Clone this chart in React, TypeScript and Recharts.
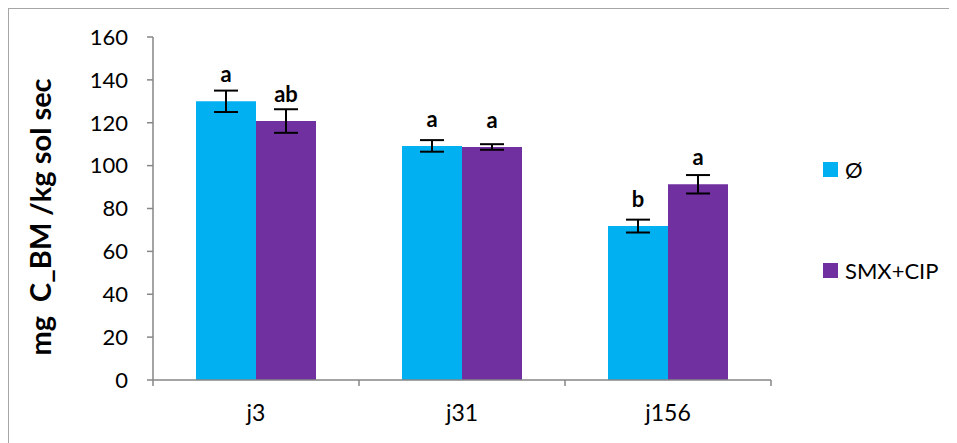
import React from 'react';
import {
  Bar,
  BarChart,
  ErrorBar,
  LabelList,
  Legend,
  XAxis,
  YAxis,
} from 'recharts';

// Biomass carbon per treatment and sampling day
const CATEGORIES = ['j3', 'j31', 'j156'];
const CONTROL = [130, 109.2, 71.8];
const CONTROL_ERR = [5, 2.7, 3];
const CONTROL_SIG = ['a', 'a', 'b'];
const TREATED = [120.8, 108.7, 91.3];
const TREATED_ERR = [5.5, 1.3, 4.3];
const TREATED_SIG = ['ab', 'a', 'a'];
const Y_TICKS = [0, 20, 40, 60, 80, 100, 120, 140, 160];

const SERIES = [
  { key: 'control', name: 'Ø', color: '#00B0F0' },
  { key: 'treated', name: 'SMX+CIP', color: '#7030A0' },
];

const data = CATEGORIES.map((day, i) => ({
  day,
  control: CONTROL[i],
  controlErr: CONTROL_ERR[i],
  controlSig: CONTROL_SIG[i],
  treated: TREATED[i],
  treatedErr: TREATED_ERR[i],
  treatedSig: TREATED_SIG[i],
}));

const W = 949;
const H = 435;
const MARGIN = { top: 29, right: 186, left: 0, bottom: 0 };
const Y_AXIS_W = 145;
const X_AXIS_H = 63;
const PLOT_W = W - MARGIN.left - MARGIN.right - Y_AXIS_W;
const AXIS_COLOR = '#868686';
const FONT = 'Lato, "Open Sans", sans-serif';

// category label plus tick marks at the category boundaries
function DayTick(props: any) {
  const { x, y, payload, index } = props;
  const band = PLOT_W / CATEGORIES.length;
  const left = x - band / 2;
  return (
    <g>
      <line x1={left} y1={y - 8} x2={left} y2={y - 2} stroke={AXIS_COLOR} strokeWidth={1.5} />
      {index === CATEGORIES.length - 1 && (
        <line x1={x + band / 2} y1={y - 8} x2={x + band / 2} y2={y - 2} stroke={AXIS_COLOR} strokeWidth={1.5} />
      )}
      <text x={x} y={y + 33} textAnchor="middle" fontSize={23} fontFamily={FONT} fill="#000">
        {payload.value}
      </text>
    </g>
  );
}

function LegendBox() {
  return (
    <div style={{ fontFamily: FONT, fontSize: 22, color: '#000' }}>
      {SERIES.map((s, i) => (
        <div
          key={s.key}
          style={{ display: 'flex', alignItems: 'center', height: 24, marginTop: i === 0 ? 0 : 77 }}
        >
          <span style={{ width: 15, height: 15, background: s.color, display: 'inline-block', marginRight: 7 }} />
          <span>{s.name}</span>
        </div>
      ))}
    </div>
  );
}

const TITLE_X = 31;
const TITLE_Y = 209;

export default function App() {
  return (
    <div style={{ position: 'relative', width: W, height: H, background: '#fff' }}>
      <div style={{ position: 'absolute', left: -1, top: -1, width: W + 1, height: 2, background: '#a6a6a6' }} />
      <div style={{ position: 'absolute', left: -1, top: -1, width: 2, height: H + 1, background: '#a6a6a6' }} />
      <BarChart width={W} height={H} data={data} margin={MARGIN} barGap={0} barSize={60}>
        <XAxis
          dataKey="day"
          height={X_AXIS_H}
          stroke={AXIS_COLOR}
          strokeWidth={1.5}
          tickLine={false}
          tick={<DayTick />}
          interval={0}
        />
        <YAxis
          domain={[0, 160]}
          ticks={Y_TICKS}
          width={Y_AXIS_W}
          stroke={AXIS_COLOR}
          strokeWidth={1.5}
          tickSize={6}
          tickMargin={19}
          tick={{ fill: '#000', fontSize: 22, fontFamily: FONT }}
          interval={0}
          label={{
            content: () => (
              <text
                x={TITLE_X}
                y={TITLE_Y}
                transform={`rotate(-90 ${TITLE_X} ${TITLE_Y})`}
                textAnchor="middle"
                dominantBaseline="central"
                fontSize={29}
                fontWeight="bold"
                fontFamily={FONT}
                fill="#000"
              >
                {'mg\u00A0 C_BM /kg sol sec'}
              </text>
            ),
          }}
        />
        <Legend
          layout="vertical"
          align="center"
          verticalAlign="middle"
          content={<LegendBox />}
          wrapperStyle={{ left: 815, top: 149, width: 130 }}
        />
        {SERIES.map((s) => (
          <Bar key={s.key} dataKey={s.key} name={s.name} fill={s.color} isAnimationActive={false}>
            <ErrorBar dataKey={`${s.key}Err`} width={12} stroke="#000" strokeWidth={2} />
            <LabelList
              dataKey={`${s.key}Sig`}
              position="top"
              offset={19}
              fill="#000"
              fontSize={22}
              fontWeight="bold"
              fontFamily={FONT}
            />
          </Bar>
        ))}
      </BarChart>
    </div>
  );
}
